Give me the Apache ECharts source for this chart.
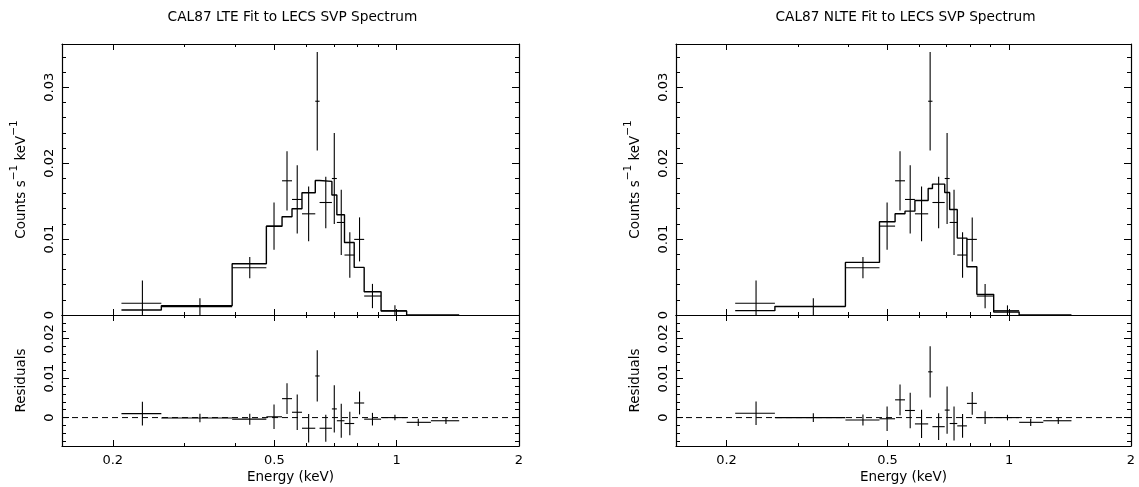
<!DOCTYPE html>
<html><head><meta charset="utf-8">
<script src="https://cdn.jsdelivr.net/npm/echarts@6/dist/echarts.min.js"></script>
<style>html,body{margin:0;padding:0;background:#fff}#c{width:1139px;height:487px}</style>
</head><body><div id="c"></div>
<script>
// ---- data ----
const binEdges = [0.2101,0.2634,0.3935,0.4777,0.5221,0.5524,0.5845,0.6303,0.6458,0.6926,0.7123,0.7438,0.7859,0.8316,0.9152,1.058,1.214,1.425];
const binCenters = [0.2366,0.3278,0.4348,0.4989,0.537,0.569,0.607,0.6374,0.669,0.702,0.7303,0.7666,0.81,0.8716,0.99,1.13,1.322];
const counts = [0.00154,0.0011,0.00623,0.01171,0.01768,0.01522,0.01333,0.02816,0.01482,0.01798,0.01219,0.0079,0.00996,0.0025,0.00057,-0.0012,-0.0008];
const countErr = [0.003,0.0011,0.0014,0.0031,0.0039,0.0045,0.0036,0.0065,0.0034,0.006,0.0043,0.003,0.0029,0.0016,0.0007,0.0009,0.0008];
const modelLTE = [0.00066,0.00123,0.00675,0.0117,0.01294,0.014,0.0161,0.01772,0.0176,0.0158,0.0132,0.00956,0.00627,0.00307,0.00053,0,0];
const modelNLTE = [0.00057,0.00114,0.00693,0.01228,0.01333,0.01368,0.01509,0.01667,0.01724,0.01614,0.0139,0.01013,0.00636,0.00272,0.0004,0,0];
const residLTE = [0.001,-0.0001,-0.0004,0.0002,0.0048,0.00135,-0.0027,0.01055,-0.0027,0.0022,-0.0008,-0.0015,0.0037,-0.0004,0,-0.0012,-0.0008];
const residNLTE = [0.0011,0,-0.0006,-0.0003,0.0045,0.0018,-0.0016,0.0116,-0.0023,0.0019,-0.0015,-0.0021,0.0036,0,0,-0.0012,-0.0008];

// ---- axes / ticks ----
const xMin = 0.15, xMax = 2;
const xMajorTicks = [0.2, 0.5, 1, 2];
const xMinorTicks = [0.3, 0.4, 0.6, 0.7, 0.8, 0.9];
const specMin = 0, specMax = 0.0357;
const specMajorTicks = [0, 0.01, 0.02, 0.03];
const specMinorTicks = [0.002,0.004,0.006,0.008,0.012,0.014,0.016,0.018,0.022,0.024,0.026,0.028,0.032,0.034];
const resMin = -0.0072, resMax = 0.026;
const resMajorTicks = [0, 0.01, 0.02];
const resMinorTicks = [-0.006,-0.004,-0.002,0.002,0.004,0.006,0.008,0.012,0.014,0.016,0.018,0.022,0.024];
const titles = ['CAL87 LTE Fit to LECS SVP Spectrum', 'CAL87 NLTE Fit to LECS SVP Spectrum'];
const yNameTop = '{a|Counts s}{s|\u22121}{a| keV}{s|\u22121}';
const yNameBottom = '{a|Residuals}';
const xName = 'Energy (keV)';

const FONT = 'DejaVu Sans';
const panels = [
  {left: 62, width: 457, model: modelLTE, resid: residLTE, title: titles[0]},
  {left: 676, width: 455, model: modelNLTE, resid: residNLTE, title: titles[1]}
];
const rows = [
  {top: 44, height: 271, min: specMin, max: specMax, major: specMajorTicks, minor: specMinorTicks, name: yNameTop, bottomRow: false},
  {top: 315, height: 131, min: resMin, max: resMax, major: resMajorTicks, minor: resMinorTicks, name: yNameBottom, bottomRow: true}
];

const black = '#000';
const grids = [], xAxes = [], yAxes = [], series = [], title = [];
const fmt = v => (v === 0 ? '0' : String(+(+v).toPrecision(6)));
const nameRich = {
  a: {fontFamily: FONT, fontSize: 13.5, color: black, lineHeight: 19, verticalAlign: 'bottom'},
  s: {fontFamily: FONT, fontSize: 10.5, color: black, lineHeight: 11, verticalAlign: 'top'}
};

function xAxis(g, pos, ticks, len, line, labels, withName) {
  return {
    type: 'log', gridIndex: g, position: pos, min: xMin, max: xMax,
    axisLine: {show: line, onZero: false, lineStyle: {color: black, width: 1.2}},
    axisTick: {show: true, inside: true, length: len, customValues: ticks, lineStyle: {color: black, width: 1}},
    axisLabel: {show: labels, customValues: ticks, formatter: fmt, color: black, fontFamily: FONT, fontSize: 13, margin: 8},
    splitLine: {show: false}, minorTick: {show: false},
    name: withName ? xName : '', nameLocation: 'middle', nameGap: 24,
    nameTextStyle: {color: black, fontFamily: FONT, fontSize: 13.5}
  };
}
function yAxis(g, pos, r, ticks, len, line, labels, withName) {
  return {
    type: 'value', gridIndex: g, position: pos, min: r.min, max: r.max,
    axisLine: {show: line, onZero: false, lineStyle: {color: black, width: 1.2}},
    axisTick: {show: true, inside: true, length: len, customValues: ticks, lineStyle: {color: black, width: 1}},
    axisLabel: {show: labels, customValues: ticks, formatter: fmt, rotate: 90, color: black, fontFamily: FONT, fontSize: 13, margin: 6},
    splitLine: {show: false},
    name: withName ? r.name : '', nameLocation: 'middle', nameGap: 34,
    nameTextStyle: {color: black, fontFamily: FONT, fontSize: 13.5, rich: nameRich}
  };
}

function renderCross(params, api) {
  const lo = api.coord([api.value(0), api.value(3)]);
  const hi = api.coord([api.value(1), api.value(3)]);
  const up = api.coord([api.value(2), api.value(3) + api.value(4)]);
  const dn = api.coord([api.value(2), api.value(3) - api.value(4)]);
  const st = {stroke: black, lineWidth: 1.1};
  return {type: 'group', children: [
    {type: 'line', shape: {x1: lo[0], y1: lo[1], x2: hi[0], y2: hi[1]}, style: st},
    {type: 'line', shape: {x1: up[0], y1: up[1], x2: dn[0], y2: dn[1]}, style: st}
  ]};
}
function stepData(m) {
  const d = [];
  m.forEach((v, i) => { d.push([binEdges[i], v]); d.push([binEdges[i + 1], v]); });
  return d;
}

panels.forEach((p, pi) => {
  title.push({text: p.title, left: p.left + p.width / 2 - 3, top: 5, textAlign: 'center',
    textStyle: {color: black, fontWeight: 'normal', fontFamily: FONT, fontSize: 13.7}});
  rows.forEach((r, ri) => {
    const g = grids.length;
    grids.push({left: p.left, top: r.top, width: p.width, height: r.height, containLabel: false});
    const xi = xAxes.length, yi = yAxes.length;
    xAxes.push(xAxis(g, 'bottom', xMajorTicks, 6, true, r.bottomRow, r.bottomRow));
    xAxes.push(xAxis(g, 'bottom', xMinorTicks, 3, false, false, false));
    xAxes.push(xAxis(g, 'top', xMajorTicks, 6, true, false, false));
    xAxes.push(xAxis(g, 'top', xMinorTicks, 3, false, false, false));
    yAxes.push(yAxis(g, 'left', r, r.major, 7, true, true, true));
    yAxes.push(yAxis(g, 'left', r, r.minor, 4, false, false, false));
    yAxes.push(yAxis(g, 'right', r, r.major, 7, true, false, false));
    yAxes.push(yAxis(g, 'right', r, r.minor, 4, false, false, false));
    const vals = ri === 0 ? counts : p.resid;
    const crossData = binCenters.map((c, i) => [binEdges[i], binEdges[i + 1], c, vals[i], countErr[i]]);
    series.push({type: 'custom', xAxisIndex: xi, yAxisIndex: yi, clip: true, renderItem: renderCross,
      encode: {x: [0, 1, 2], y: 3}, data: crossData, silent: true});
    if (ri === 0) {
      series.push({type: 'line', xAxisIndex: xi, yAxisIndex: yi, data: stepData(p.model), symbol: 'none',
        clip: true, lineStyle: {color: black, width: 1.4}, silent: true});
    } else {
      series.push({type: 'line', xAxisIndex: xi, yAxisIndex: yi, data: [[xMin, 0], [xMax, 0]], symbol: 'none',
        lineStyle: {color: black, width: 1, type: [6, 4]}, silent: true});
    }
  });
});

const chart = echarts.init(document.getElementById('c'), null, {renderer: 'canvas'});
chart.setOption({
  animation: false, backgroundColor: '#fff',
  textStyle: {fontFamily: FONT},
  title, grid: grids, xAxis: xAxes, yAxis: yAxes, series
});
</script></body></html>
